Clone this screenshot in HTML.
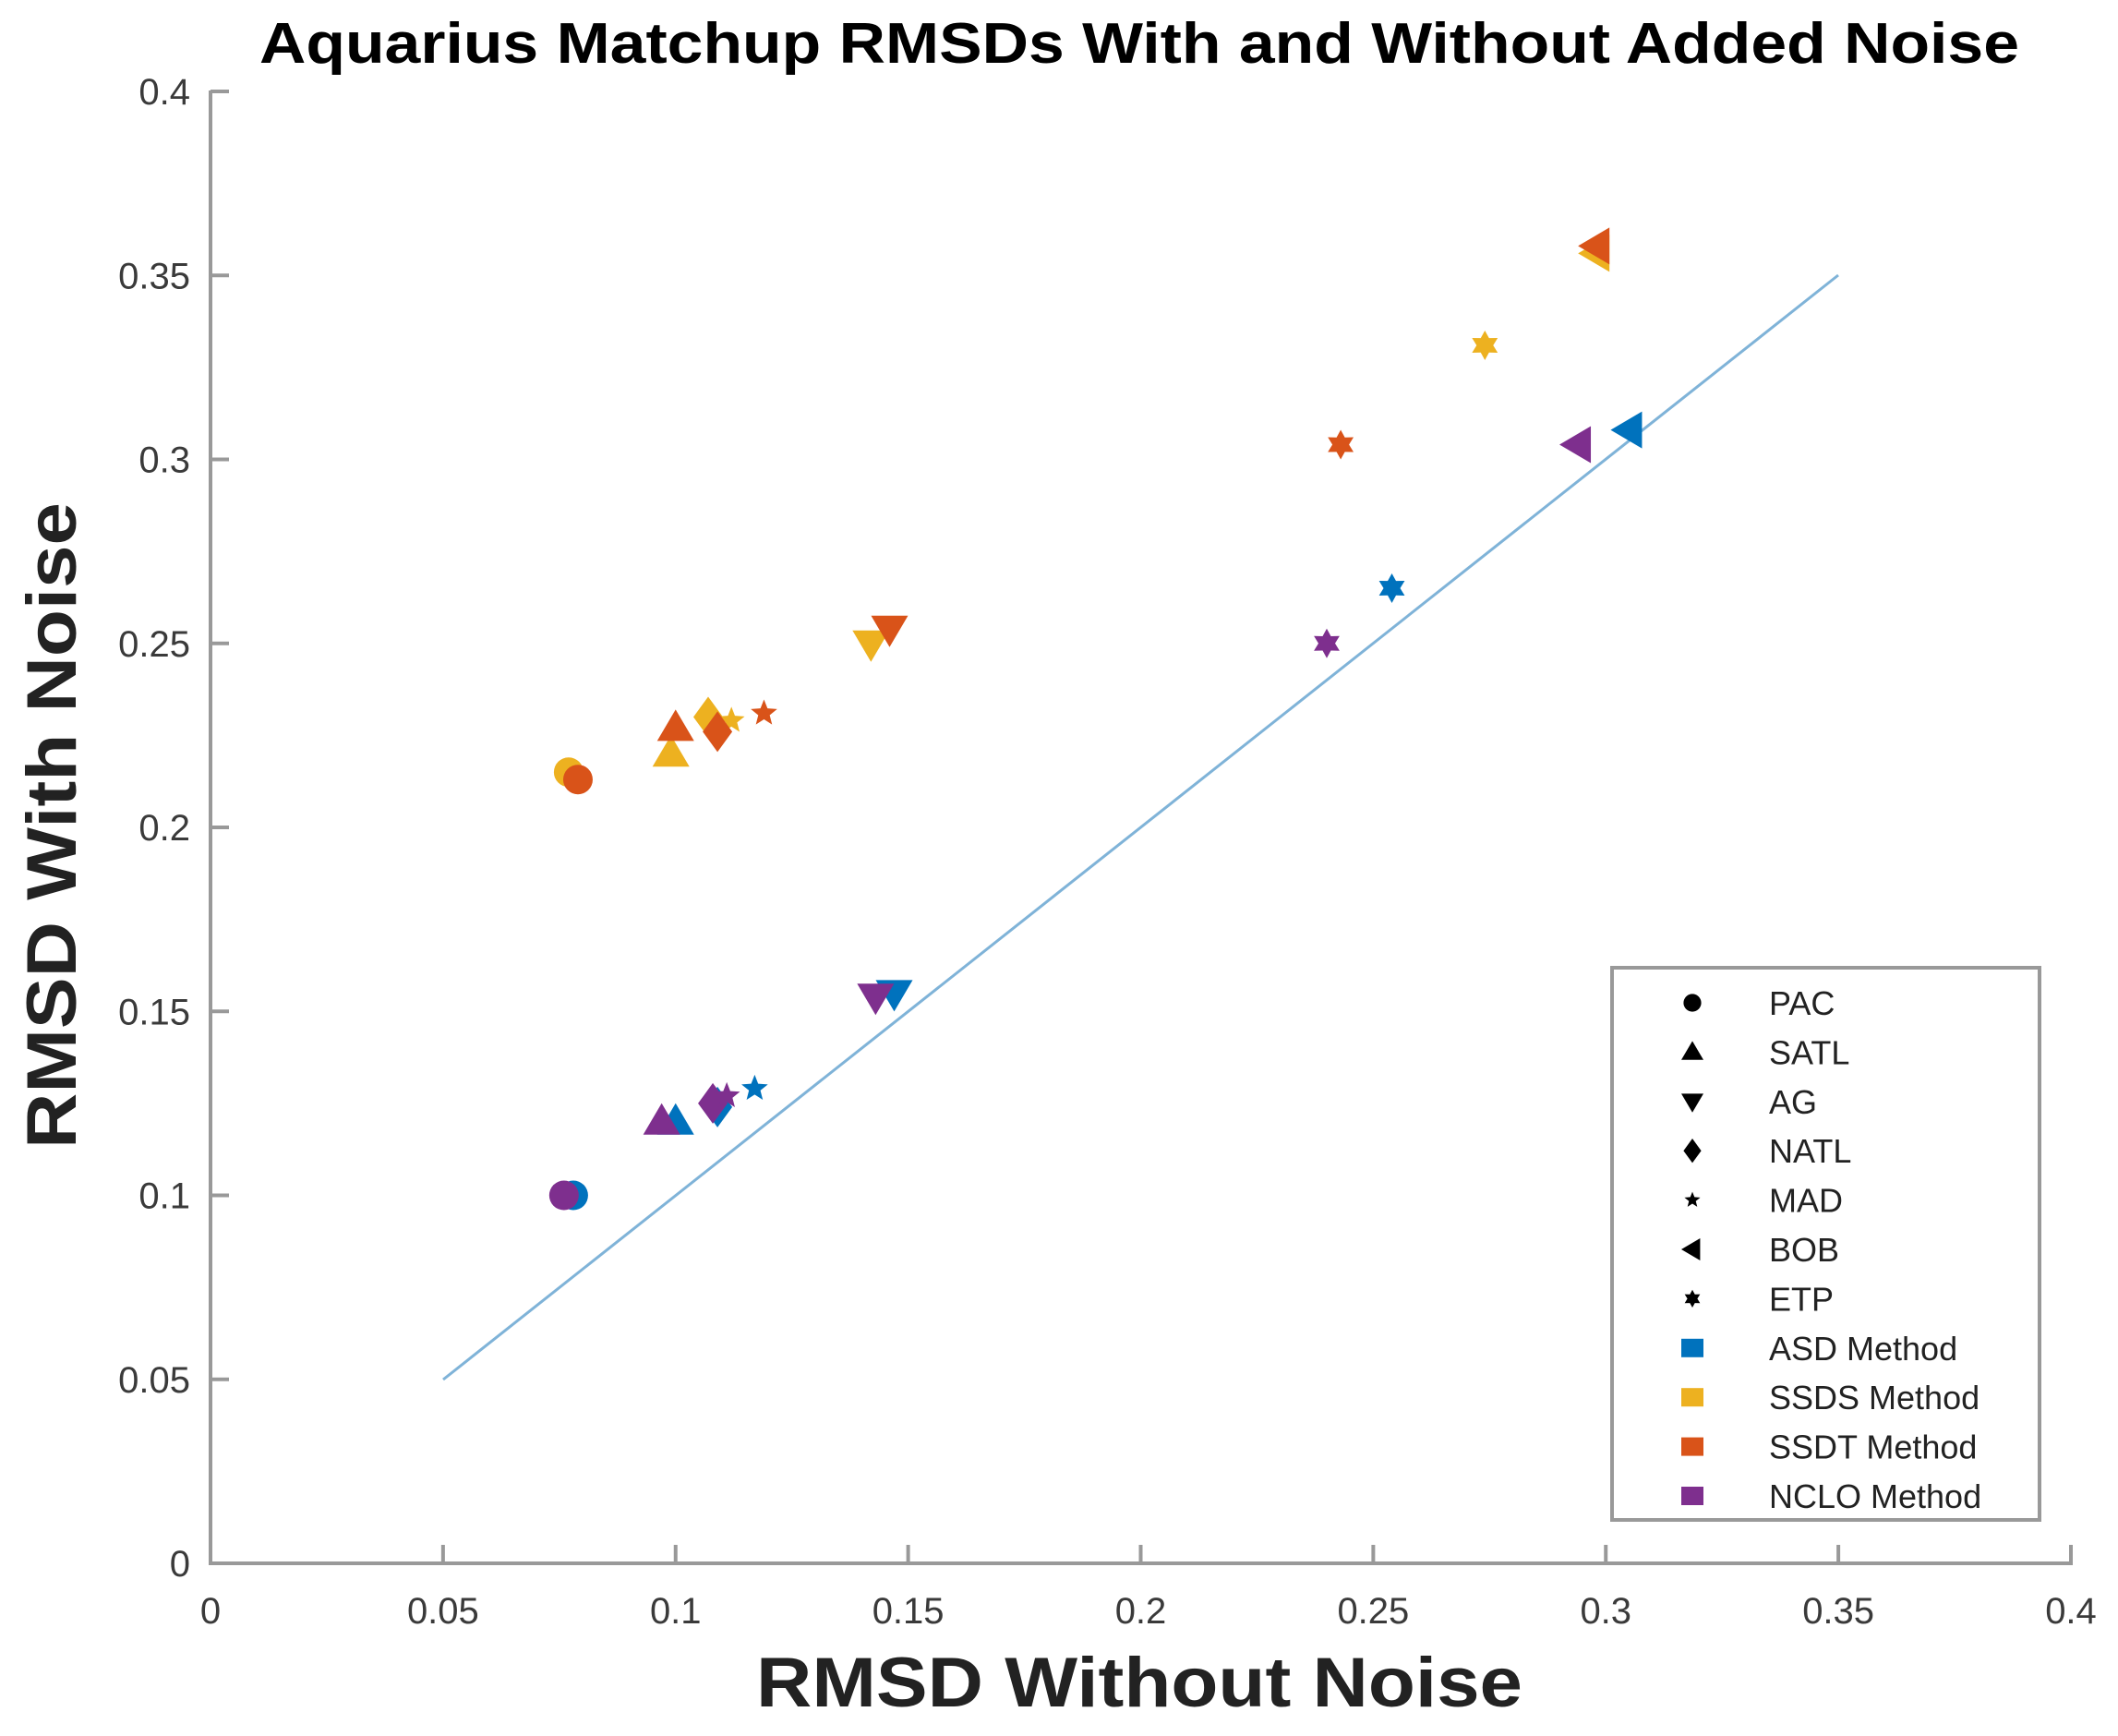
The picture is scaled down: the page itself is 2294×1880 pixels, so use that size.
<!DOCTYPE html>
<html><head><meta charset="utf-8"><style>
html,body{margin:0;padding:0;background:#fff;}
svg{display:block;}
text{font-family:"Liberation Sans",Arial,sans-serif;}
</style></head><body>
<svg id="s" width="2294" height="1880" xmlns="http://www.w3.org/2000/svg">
<rect width="2294" height="1880" fill="#fff"/>
<text x="1234" y="68" font-size="62" font-weight="bold" text-anchor="middle" textLength="1906" lengthAdjust="spacingAndGlyphs" fill="#000">Aquarius Matchup RMSDs With and Without Added Noise</text>
<g id="ax" stroke="#999" stroke-width="4" fill="none"></g>
<g id="lab" font-size="40" fill="#3a3a3a"></g>
<text x="1234" y="1848" font-size="76" font-weight="bold" text-anchor="middle" textLength="830" lengthAdjust="spacingAndGlyphs" fill="#222">RMSD Without Noise</text>
<text transform="translate(82,894) rotate(-90)" font-size="76" font-weight="bold" text-anchor="middle" textLength="700" lengthAdjust="spacingAndGlyphs" fill="#222">RMSD With Noise</text>
<line x1="480" y1="1494" x2="1991" y2="298" stroke="#7fb3d8" stroke-width="3"/>
<g id="pts"></g>
<rect x="1746" y="1048" width="463" height="598" fill="#fff" stroke="#999" stroke-width="4"/>
<g id="leg" font-size="36" fill="#222"></g>
</svg>
<script>
const NS="http://www.w3.org/2000/svg";
function el(p,t,a,txt){const e=document.createElementNS(NS,t);for(const k in a)e.setAttribute(k,a[k]);if(txt!==undefined)e.textContent=txt;p.appendChild(e);return e;}
const X=v=>228+v*5037.5, Y=v=>1693-v*3985;
const ax=document.getElementById('ax'), lab=document.getElementById('lab');
el(ax,'line',{x1:228,y1:98,x2:228,y2:1695});
el(ax,'line',{x1:226,y1:1693,x2:2245,y2:1693});
for(let i=0;i<=8;i++){const v=i*0.05;const t=(+v.toFixed(2)).toString();
 const y=Y(v), x=X(v);
 el(ax,'line',{x1:228,y1:y,x2:248,y2:y});
 el(ax,'line',{x1:x,y1:1693,x2:x,y2:1673});
 el(lab,'text',{x:206,y:y+14,'text-anchor':'end'},t);
 el(lab,'text',{x:x,y:1758,'text-anchor':'middle'},t);}
function star(n,ro,ri,rot){let p=[];for(let i=0;i<2*n;i++){const r=i%2?ri:ro;const a=rot+i*Math.PI/n;p.push((r*Math.sin(a)).toFixed(1)+','+(-r*Math.cos(a)).toFixed(1));}return p.join(' ');}
function marker(g,shape,cx,cy,c,s){s=s||1;
 const T=`translate(${cx},${cy}) scale(${s})`;
 if(shape==='o')el(g,'circle',{cx:cx,cy:cy,r:16*s,fill:c});
 else if(shape==='^')el(g,'polygon',{points:'0,-20 20,14 -20,14',fill:c,transform:T});
 else if(shape==='v')el(g,'polygon',{points:'0,20 20,-14 -20,-14',fill:c,transform:T});
 else if(shape==='d')el(g,'polygon',{points:'0,-22 16,0 0,22 -16,0',fill:c,transform:T});
 else if(shape==='p')el(g,'polygon',{points:star(5,15,6.5,0),fill:c,transform:T});
 else if(shape==='<')el(g,'polygon',{points:'-20,0 14,-20 14,20',fill:c,transform:T});
 else if(shape==='h')el(g,'polygon',{points:star(6,16,9,0),fill:c,transform:T});
}
const B='#0072BD',Yl='#EDB120',O='#D95319',P='#7E2F8E';
const shapes=['o','^','v','d','p','<','h'];
const data={
 [B]:[[0.078,0.100],[0.100,0.120],[0.147,0.155],[0.109,0.124],[0.117,0.129],[0.305,0.308],[0.254,0.265]],
 [Yl]:[[0.077,0.215],[0.099,0.220],[0.142,0.250],[0.107,0.230],[0.112,0.229],[0.298,0.356],[0.274,0.331]],
 [O]:[[0.079,0.213],[0.100,0.227],[0.146,0.254],[0.109,0.226],[0.119,0.231],[0.298,0.358],[0.243,0.304]],
 [P]:[[0.076,0.100],[0.097,0.120],[0.143,0.154],[0.108,0.125],[0.111,0.127],[0.294,0.304],[0.240,0.250]]};
const pts=document.getElementById('pts');
for(const c of [B,Yl,O,P])data[c].forEach((d,i)=>marker(pts,shapes[i],X(d[0]),Y(d[1]),c));
const leg=document.getElementById('leg');
const names=['PAC','SATL','AG','NATL','MAD','BOB','ETP','ASD Method','SSDS Method','SSDT Method','NCLO Method'];
const cols=[B,Yl,O,P];
names.forEach((n,i)=>{const y=1086+i*53.4;
 if(i<7)marker(leg,shapes[i],1833,y,'#000',0.6);
 else el(leg,'rect',{x:1821,y:y-10,width:24,height:20,fill:cols[i-7]});
 el(leg,'text',{x:1916,y:y+13},n);});
</script>
</body></html>
